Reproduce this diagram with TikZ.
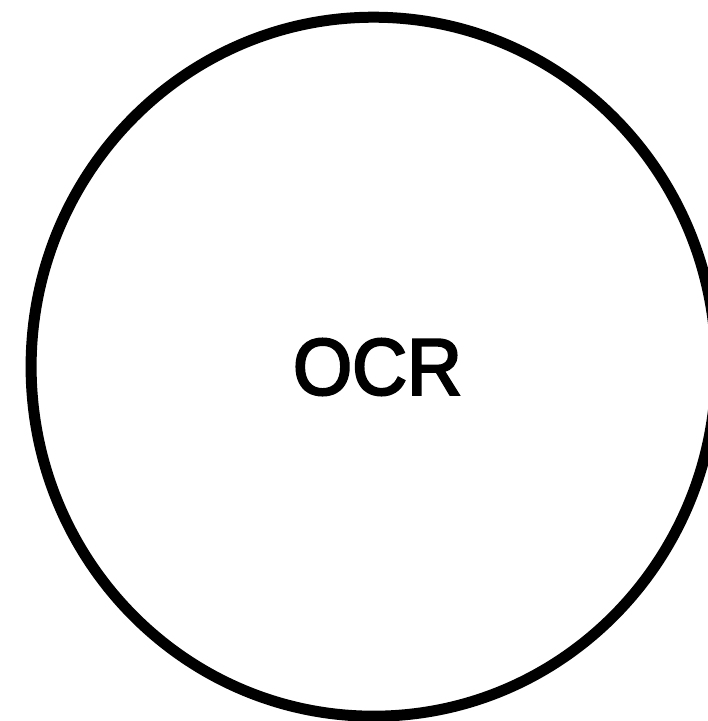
\documentclass[tikz,border=0pt]{standalone}
\usepackage{fontspec}
\setmainfont{Liberation Sans}
\newfontfamily\ocrfont[FakeBold=3, FakeStretch=0.95]{Liberation Sans}
\usetikzlibrary{shapes.geometric, positioning}

\begin{document}
\begin{tikzpicture}[x=1pt, y=-1pt]
    \tikzset{
        ring/.style={ellipse, draw=black, line width=11pt, inner sep=0pt, minimum width=685pt, minimum height=699pt},
        label/.style={inner sep=0pt, font=\ocrfont\fontsize{80}{86}\selectfont}
    }
    \useasboundingbox (0,0) rectangle (708,721);

    \node (Ring) [ring] at (373.6,366.7) {};
    \node (OCR) [label] at (377.5,367) {OCR};

\end{tikzpicture}
\end{document}
